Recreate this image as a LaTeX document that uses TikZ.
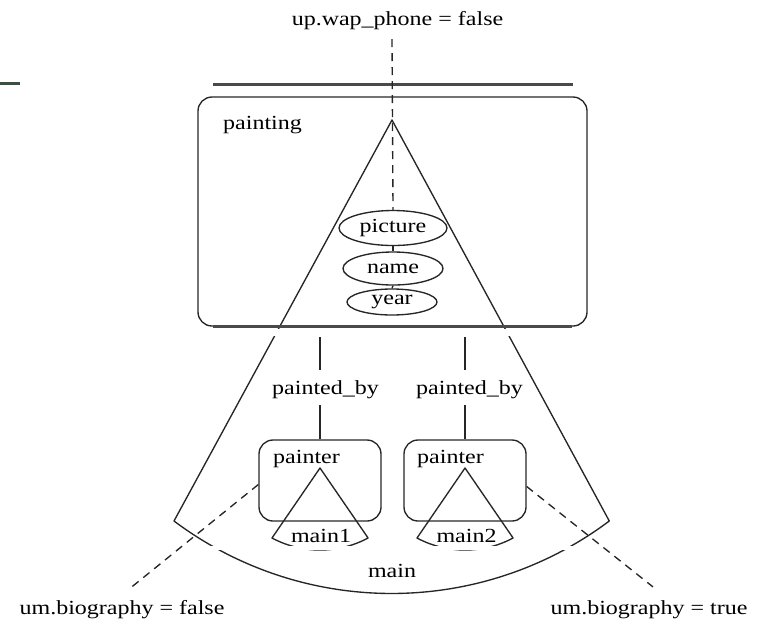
\documentclass[tikz,border=0pt]{standalone}
\usepackage{fontspec}
\setmainfont[FakeStretch=1.2]{Liberation Serif}
\usetikzlibrary{shapes.geometric,calc}
\definecolor{linegray}{HTML}{262626}
\definecolor{barcol}{HTML}{4A4A4A}
\definecolor{greenbar}{HTML}{3D4F40}
\begin{document}
\begin{tikzpicture}[x=1pt,y=1pt,
  every node/.style={font=\fontsize{20}{24}\selectfont, inner sep=0pt, text=black},
  outline/.style={draw=linegray, line width=1.35pt, line join=round},
  sepbar/.style={draw=barcol, line width=3pt},
  attr/.style={ellipse, draw=linegray, line width=1.35pt, fill=white, inner sep=0pt},
  entitybox/.style={rectangle, rounded corners=14pt, draw=linegray, line width=1.35pt},
  link/.style={draw=linegray, line width=1.35pt},
  cond/.style={draw=linegray, line width=1.35pt, dash pattern=on 8pt off 6pt},
  lbl/.style={anchor=base},
  band/.style={fill=white, draw=none}
]
\useasboundingbox (0,0) rectangle (763,-622);

% top-left stub
\coordinate (stubL) at (0,-83.5);
\coordinate (stubR) at (20,-83.5);
\draw[draw=greenbar, line width=2.4pt] (stubL) -- (stubR);

% big fan "main"
\coordinate (apex) at (392,-120);
\coordinate (mainL) at (174,-521);
\coordinate (mainR) at (610,-521);
\draw[outline] (apex) -- (mainL) arc[start angle=233.16, end angle=306.84, radius=363pt] -- cycle;

% painting entity
\node[entitybox, minimum width=389pt, minimum height=229pt] (painting) at (392.5,-211.5) {};
\node[lbl, anchor=base west] (paintingLbl) at (223,-129) {painting};

% separator bars
\coordinate (barTL) at (213,-84);
\coordinate (barTR) at (573,-84);
\coordinate (barBL) at (213,-326);
\coordinate (barBR) at (572,-326);
\draw[sepbar] (barTL) -- (barTR);
\draw[sepbar] (barBL) -- (barBR);
\fill[band] (205,-328.7) rectangle (590,-336);

% attributes
\node[attr, minimum width=108pt, minimum height=35pt] (picture) at (393,-228) {picture};
\node[attr, minimum width=100pt, minimum height=33pt] (name) at (393,-268.5) {name};
\node[attr, minimum width=90pt, minimum height=26pt] (year) at (392,-302) {year};
\draw[link] (picture.south) -- (name.north);
\draw[link] (name.south) -- (year.north);

% top condition
\node[lbl] (wap) at (397.5,-25) {up.wap\_phone = false};
\coordinate (wapEnd) at ($(wap.base -| apex)+(0,-14)$);
\draw[cond] (wapEnd) -- (picture.north);

% painter entities
\node[entitybox, minimum width=122pt, minimum height=81pt] (painter1) at (320,-480.5) {};
\node[entitybox, minimum width=122pt, minimum height=81pt] (painter2) at (465,-480.5) {};
\node[lbl, anchor=base west] (painter1Lbl) at (273,-463) {painter};
\node[lbl, anchor=base west] (painter2Lbl) at (417,-463) {painter};

% painted_by relationships
\node[lbl] (pb1) at (325.5,-394) {painted\_by};
\node[lbl] (pb2) at (469.5,-394) {painted\_by};
\coordinate (pb1Top) at (320,-337);
\coordinate (pb1Mid) at (320,-370);
\coordinate (pb1Low) at (320,-405);
\coordinate (pb2Top) at (465,-337);
\coordinate (pb2Mid) at (465,-370);
\coordinate (pb2Low) at (465,-405);
\draw[link] (pb1Top) -- (pb1Mid);
\draw[link] (pb1Low) -- (painter1.north);
\draw[link] (pb2Top) -- (pb2Mid);
\draw[link] (pb2Low) -- (painter2.north);

% small fans
\coordinate (m1apex) at (320,-468);
\coordinate (m1L) at (272,-538);
\coordinate (m2apex) at (465,-468);
\coordinate (m2L) at (417,-538);
\draw[outline] (m1apex) -- (m1L) arc[start angle=241.9, end angle=298.1, radius=102pt] -- cycle;
\draw[outline] (m2apex) -- (m2L) arc[start angle=241.9, end angle=298.1, radius=102pt] -- cycle;
\node[lbl] (main1) at (321,-542) {main1};
\node[lbl] (main2) at (466.5,-542) {main2};
\node[lbl] (mainLbl) at (392,-577) {main};
\fill[band] (205,-545.5) rectangle (590,-549.5);

% bottom conditions
\node[lbl] (bioF) at (122,-614) {um.biography = false};
\node[lbl] (bioT) at (649,-614) {um.biography = true};
\draw[cond] ([yshift=-4pt]painter1.west) -- ($(bioF.north)+(10,13)$);
\draw[cond] ([yshift=-6pt]painter2.east) -- ($(bioT.north)+(4,13)$);
\end{tikzpicture}
\end{document}
